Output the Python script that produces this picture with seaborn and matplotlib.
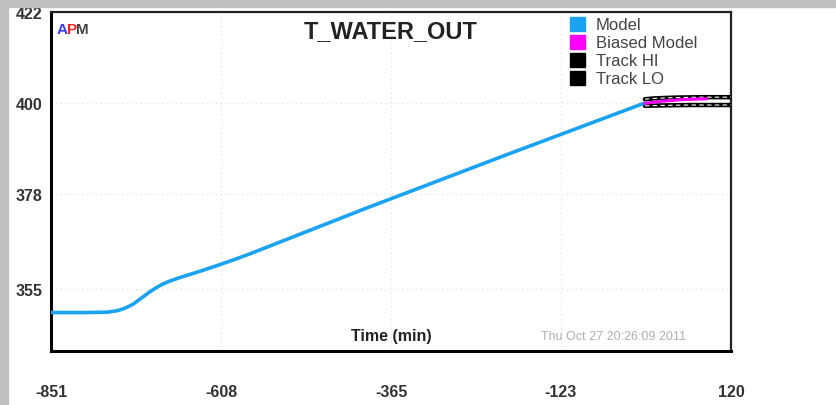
import numpy as np
import pandas as pd
import matplotlib
matplotlib.use("Agg")
import matplotlib.pyplot as plt
import seaborn as sns
from matplotlib.patches import Rectangle

# ---- data ----
model_t = [-851, -800, -770, -755, -745, -734, -722, -710, -700, -690, -680, -668, -655, -638,
           -615, -591, -567, -400, -200, -3]
model_v = [349.3, 349.3, 349.4, 349.8, 350.4, 351.3, 352.8, 354.3, 355.4, 356.3, 357.0, 357.7,
           358.4, 359.3, 360.6, 362.0, 363.5, 374.6, 387.5, 400.0]
biased_t = [-3, 20, 50, 85]
biased_v = [399.9, 400.4, 400.8, 401.0]
hi_t = [-3, 10, 40, 80, 120]
hi_v = [400.9, 401.1, 401.3, 401.4, 401.4]
lo_t = [-3, 20, 60, 120]
lo_v = [399.3, 399.4, 399.5, 399.5]
x_ticks = [-851, -608, -365, -123, 120]
y_ticks = [355, 378, 400, 422]

sns.set_theme(style="white")
plt.rcParams['font.family'] = ['Liberation Sans', 'DejaVu Sans']

fig = plt.figure(figsize=(8.37, 4.06), dpi=100)
fig.patch.set_facecolor("white")
# gray frame (top and left)
fig.patches.append(Rectangle((0, 1 - 8/406), 1, 8/406, transform=fig.transFigure, color="#c0c0c0", zorder=0))
fig.patches.append(Rectangle((0, 0), 8/837, 1, transform=fig.transFigure, color="#c0c0c0", zorder=0))

ax = fig.add_axes([51/837, 1 - 352/406, (731 - 51)/837, (352 - 13)/406])

df_m = pd.DataFrame({"t": model_t, "v": model_v})
df_b = pd.DataFrame({"t": biased_t, "v": biased_v})
df_h = pd.DataFrame({"t": hi_t, "v": hi_v})
df_l = pd.DataFrame({"t": lo_t, "v": lo_v})

sns.lineplot(data=df_h, x="t", y="v", ax=ax, color="black", lw=3.2, zorder=3)
sns.lineplot(data=df_l, x="t", y="v", ax=ax, color="black", lw=3.2, zorder=3)
sns.lineplot(data=df_h, x="t", y="v", ax=ax, color="white", lw=0.8, ls=(0, (4, 3)), zorder=3.5)
sns.lineplot(data=df_l, x="t", y="v", ax=ax, color="white", lw=0.8, ls=(0, (4, 3)), zorder=3.5)
sns.lineplot(data=df_m, x="t", y="v", ax=ax, color="#1aa3f0", lw=2.6, zorder=4)
sns.lineplot(data=df_b, x="t", y="v", ax=ax, color="#ff00ff", lw=2.2, zorder=5)

ax.set_xlim(-851, 120)
ax.set_ylim(340, 422)
ax.set_xticks(x_ticks)
ax.set_yticks(y_ticks)
ax.set_xticklabels([str(v) for v in x_ticks], fontsize=11.5, fontweight="bold", color="#333333")
ax.set_yticklabels([str(v) for v in y_ticks], fontsize=11.5, fontweight="bold", color="#333333")
ax.tick_params(axis="x", direction="in", length=5, width=1.2, pad=24, color="black")
ax.tick_params(axis="y", direction="in", length=0, pad=6)
ax.set_xlabel("")
ax.set_ylabel("")

for g in [-608, -365, -123]:
    ax.axvline(g, color="#dddddd", lw=0.8, ls=(0, (1, 3)), zorder=1)
for g in [355, 378, 400]:
    ax.axhline(g, color="#dddddd", lw=0.8, ls=(0, (1, 3)), zorder=1)

for s in ["left", "bottom"]:
    ax.spines[s].set_linewidth(2.2)
    ax.spines[s].set_color("black")
for s in ["top", "right"]:
    ax.spines[s].set_linewidth(1.6)
    ax.spines[s].set_color("#222222")

ax.text(0.5, 0.945, "T_WATER_OUT", transform=ax.transAxes, ha="center", va="center",
        fontsize=17, fontweight="bold", color="#222222")
ax.text(0.5, 0.045, "Time (min)", transform=ax.transAxes, ha="center", va="center",
        fontsize=11.5, fontweight="bold", color="#222222")
ax.text((614 - 51)/680, 0.045, "Thu Oct 27 20:26:09 2011", transform=ax.transAxes, ha="center",
        va="center", fontsize=9, color="#b0b0b0")

# APM logo
fig.text(57/837, 1 - 30/406, "A", color="#3a3aff", fontsize=11, fontweight="bold", va="center")
fig.text(67/837, 1 - 30/406, "P", color="#ff2020", fontsize=11, fontweight="bold", va="center")
fig.text(76/837, 1 - 30/406, "M", color="#444444", fontsize=11, fontweight="bold", va="center")

# legend
leg_items = [("Model", "#1aa3f0"), ("Biased Model", "#ff00ff"), ("Track HI", "black"), ("Track LO", "black")]
for i, (lab, col) in enumerate(leg_items):
    yc = 25 + i * 18
    fig.patches.append(Rectangle((570/837, 1 - (yc + 7)/406), 15/837, 14/406,
                                 transform=fig.transFigure, color=col, zorder=5))
    fig.text(596/837, 1 - yc/406, lab, color="#444444", fontsize=12, va="center")

fig.savefig("out.png", dpi=100)
